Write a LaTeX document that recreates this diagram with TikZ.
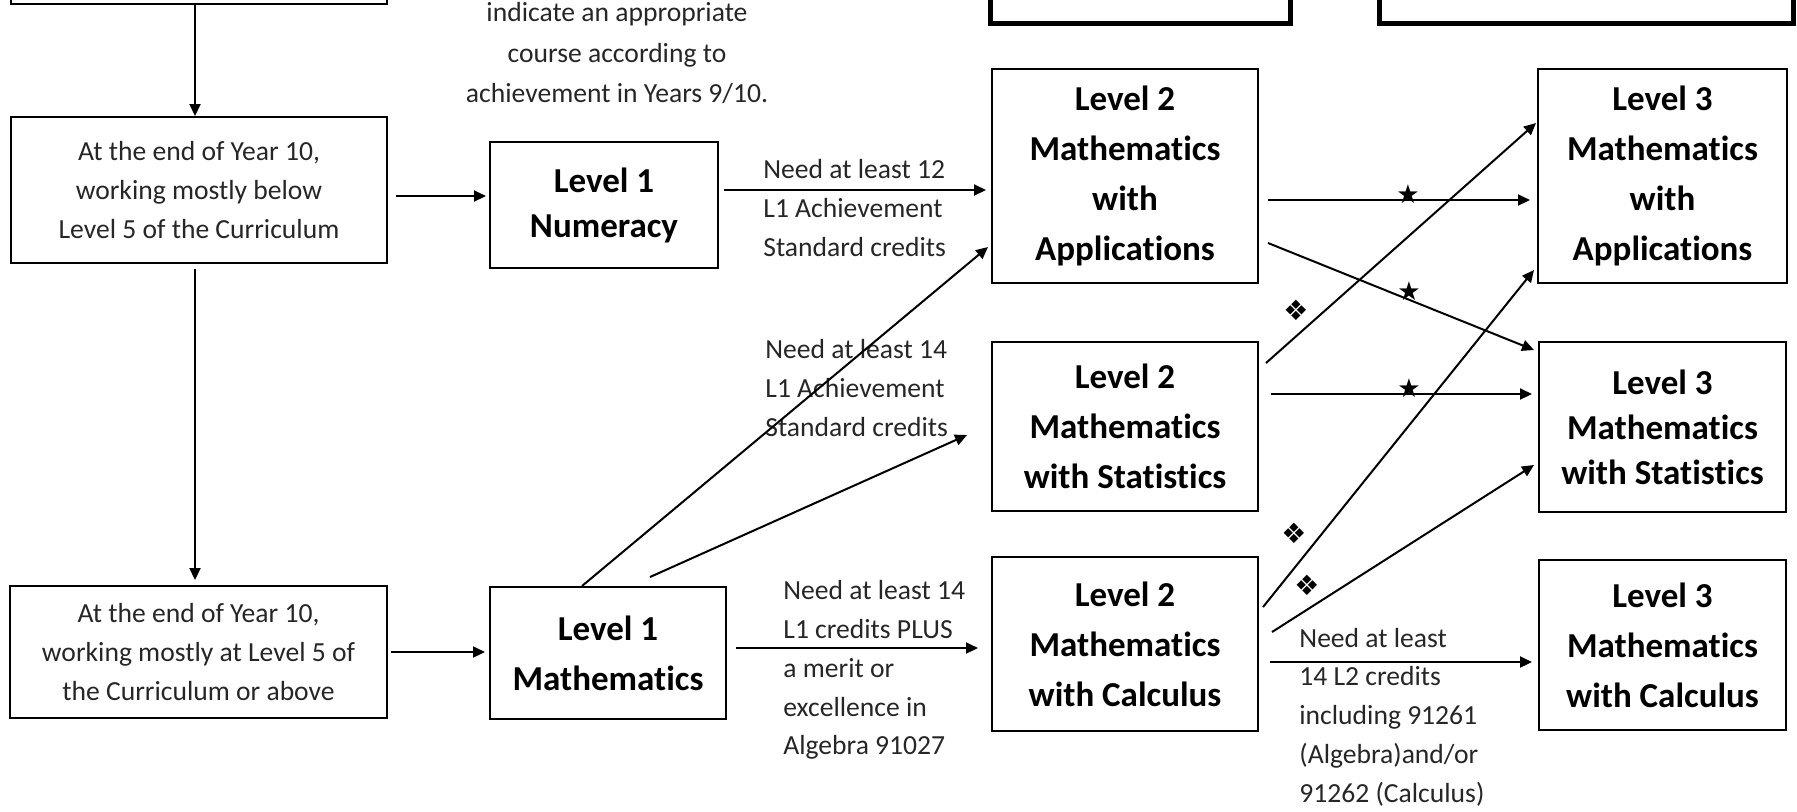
\documentclass[tikz,border=0pt]{standalone}
\usepackage{fontspec}
\setmainfont{Carlito}[Ligatures={NoCommon}]
\newfontfamily\symfont{DejaVu Sans}
\usetikzlibrary{arrows.meta,calc}
\begin{document}
\begin{tikzpicture}[x=0.5pt,y=-0.5pt,
  bx/.style={draw,line width=1pt,rectangle,inner sep=0pt,align=center,
    font=\bfseries\fontsize{17.5}{25}\selectfont},
  tbx/.style={draw,line width=1pt,rectangle,inner sep=0pt,align=center,text=black!85,
    font=\fontsize{13.8}{19.4}\selectfont},
  thick box/.style={draw,line width=2.5pt,rectangle,inner sep=0pt},
  lbl/.style={inner sep=0pt,align=left,anchor=west,text=black!85,
    font=\fontsize{13.8}{19.4}\selectfont},
  arr/.style={line width=1pt,-{Triangle[length=6pt,width=5.5pt]}},
  sym/.style={inner sep=0pt,font=\symfont\fontsize{13}{13}\selectfont},
  dia/.style={inner sep=0pt,font=\symfont\fontsize{14}{14}\selectfont}]
\useasboundingbox (0,0) rectangle (1797,811);
\clip (0,0) rectangle (1797,811);

% top (cut) boxes
\node[tbx,minimum width=188pt,minimum height=32pt] (tl) at (199,-28) {};
\node[thick box,minimum width=150pt,minimum height=41.5pt] (tm) at (1140,-18.5) {};
\node[thick box,minimum width=207pt,minimum height=41.5pt] (tr) at (1586,-18.5) {};

% top note
\node[inner sep=0pt,align=center,text=black!85,font=\fontsize{13.8}{20.2}\selectfont] (note) at (617,53)
  {indicate an appropriate\\course according to\\achievement in Years 9/10.};

% left boxes
\node[tbx,minimum width=188pt,minimum height=73pt] (below) at (199,190)
  {At the end of Year 10,\\working mostly below\\Level 5 of the Curriculum};
\node[tbx,minimum width=188.5pt,minimum height=66pt] (above) at (198.5,652)
  {At the end of Year 10,\\working mostly at Level 5 of\\the Curriculum or above};

% level 1
\node[bx,minimum width=114pt,minimum height=63pt,font=\bfseries\fontsize{17.5}{22.5}\selectfont] (num) at (604,205)
  {Level 1\\Numeracy};
\node[bx,minimum width=118pt,minimum height=66pt] (l1m) at (608,653)
  {Level 1\\Mathematics};

% level 2
\node[bx,minimum width=133pt,minimum height=107pt] (l2a) at (1125,176)
  {Level 2\\Mathematics\\with\\Applications};
\node[bx,minimum width=133pt,minimum height=84.5pt] (l2s) at (1125,426.5)
  {Level 2\\Mathematics\\with Statistics};
\node[bx,minimum width=133pt,minimum height=87pt] (l2c) at (1125,644)
  {Level 2\\Mathematics\\with Calculus};

% level 3
\node[bx,minimum width=124.5pt,minimum height=107pt] (l3a) at (1662.5,176)
  {Level 3\\Mathematics\\with\\Applications};
\node[bx,minimum width=123.5pt,minimum height=85pt,font=\bfseries\fontsize{17.5}{22.5}\selectfont] (l3s) at (1662.5,427)
  {Level 3\\Mathematics\\with Statistics};
\node[bx,minimum width=123.5pt,minimum height=85pt] (l3c) at (1662.5,645)
  {Level 3\\Mathematics\\with Calculus};

% labels
\node[lbl] (lab1) at (763,208) {Need at least 12\\L1 Achievement\\Standard credits};
\node[lbl] (lab2) at (765,388) {Need at least 14\\L1 Achievement\\Standard credits};
\node[lbl] (lab3) at (783,670) {Need at least 14\\L1 credits PLUS\\a merit or\\excellence in\\Algebra 91027};
\node[lbl] (lab4) at (1299,717) {Need at least\\14 L2 credits\\including 91261\\(Algebra)and/or\\91262 (Calculus)};

% connectors
\draw[arr] ($(tl.south)+(-4,0)$) -- ($(below.north)+(-4,0)$);
\draw[arr] ($(below.south)+(-4,5)$) -- ($(above.north)+(-3.5,-5)$);
\draw[arr] ($(below.east)+(8,6)$) -- ($(num.west)+(-3,-9)$);
\draw[arr] ($(above.east)+(3,0)$) -- ($(l1m.west)+(-4,-1)$);
\draw[arr] ($(num.east)+(5,-15)$) -- ($(l2a.west)+(-5,14)$);
\draw[arr] ($(l1m.east)+(9,-5)$) -- ($(l2c.west)+(-13,4)$);
\draw[arr] ($(l1m.north)+(-26,0)$) -- ($(l2a.west)+(-3,71)$);
\draw[arr] ($(l1m.north)+(42,-9)$) -- ($(l2s.west)+(-24,8.5)$);

\draw[arr] ($(l2a.east)+(9,24)$) -- ($(l3a.west)+(-7,24)$);
\draw[arr] ($(l2a.east)+(9,67)$) -- ($(l3s.west)+(-4,-77)$);
\draw[arr] ($(l2s.east)+(7,-63.5)$) -- ($(l3a.west)+(-1,-53)$);
\draw[arr] ($(l2s.east)+(12,-32.5)$) -- ($(l3s.west)+(-6,-33)$);
\draw[arr] ($(l2c.east)+(4,-37)$) -- ($(l3a.west)+(-3,94)$);
\draw[arr] ($(l2c.east)+(13,-12)$) -- ($(l3s.west)+(-4,38)$);
\draw[arr] ($(l2c.east)+(11,18)$) -- ($(l3c.west)+(-6,17)$);

% symbols
\node[sym] (st1) at (1408,194) {★};
\node[sym] (st2) at (1409,291) {★};
\node[sym] (st3) at (1409,388) {★};
\node[dia] (d1) at (1296,310) {❖};
\node[dia] (d2) at (1294,533) {❖};
\node[dia] (d3) at (1307,585) {❖};
\end{tikzpicture}
\end{document}
